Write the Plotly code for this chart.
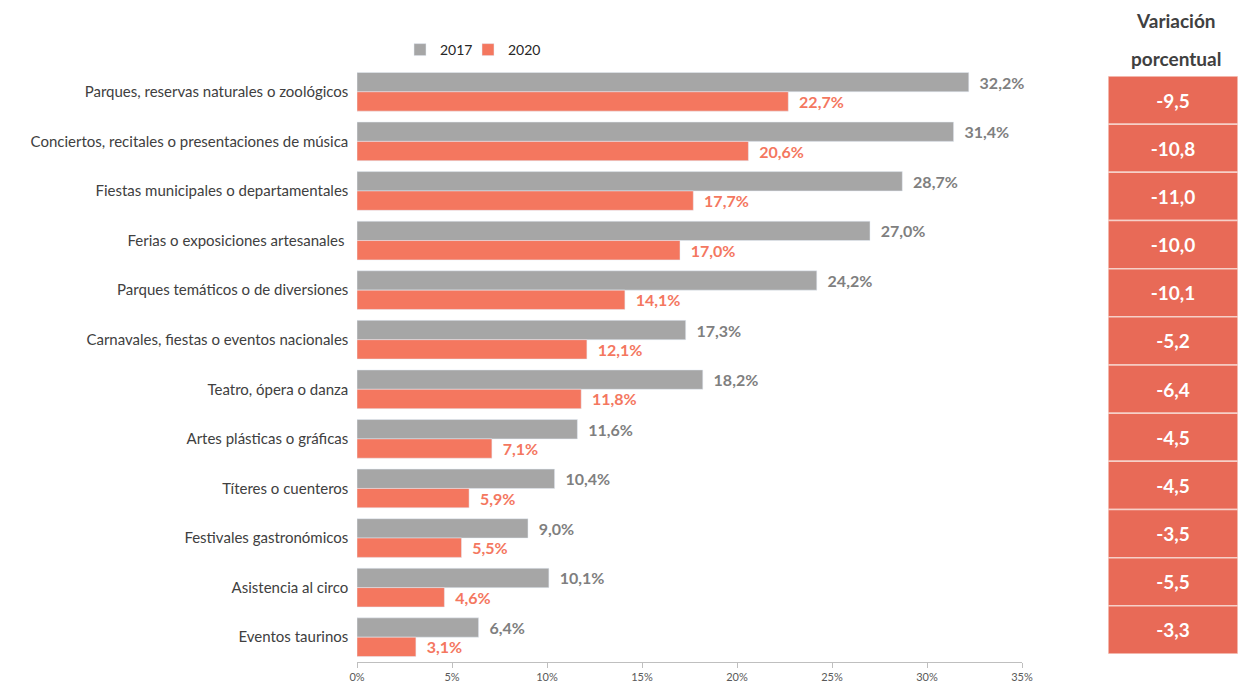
import plotly.graph_objects as go

categories = [
    "Parques, reservas naturales o zoológicos",
    "Conciertos, recitales o presentaciones de música",
    "Fiestas municipales o departamentales",
    "Ferias o exposiciones artesanales ",
    "Parques temáticos o de diversiones",
    "Carnavales, fiestas o eventos nacionales",
    "Teatro, ópera o danza",
    "Artes plásticas o gráficas",
    "Títeres o cuenteros",
    "Festivales gastronómicos",
    "Asistencia al circo",
    "Eventos taurinos",
]
values_2017 = [32.2, 31.4, 28.7, 27.0, 24.2, 17.3, 18.2, 11.6, 10.4, 9.0, 10.1, 6.4]
values_2020 = [22.7, 20.6, 17.7, 17.0, 14.1, 12.1, 11.8, 7.1, 5.9, 5.5, 4.6, 3.1]
variation = [-9.5, -10.8, -11.0, -10.0, -10.1, -5.2, -6.4, -4.5, -4.5, -3.5, -5.5, -3.3]
x_ticks = [0, 5, 10, 15, 20, 25, 30, 35]

FONT = "Lato"
W, H = 1238, 683
L, R, T, B = 357, 0, 67, 21
plot_w = W - L - R
plot_h = H - T - B

def fmt(v, pct=True):
    s = f"{v:.1f}".replace(".", ",")
    return s + ("%" if pct else "")

NB = "\u00a0\u00a0"

fig = go.Figure()
fig.add_trace(go.Bar(
    name="2017", y=categories, x=values_2017, orientation="h",
    marker=dict(color="#A6A6A6"), legend="legend",
    text=[NB + fmt(v) for v in values_2017], textposition="outside",
    textfont=dict(family=FONT, size=16, color="#7F7F7F", weight="bold"),
    cliponaxis=False,
))
fig.add_trace(go.Bar(
    name="2020", y=categories, x=values_2020, orientation="h",
    marker=dict(color="#F4775F"), legend="legend2",
    text=[NB + fmt(v) for v in values_2020], textposition="outside",
    textfont=dict(family=FONT, size=16, color="#F4775F", weight="bold"),
    cliponaxis=False,
))
fig.add_trace(go.Bar(
    y=categories, x=[1] * len(categories), orientation="h",
    xaxis="x2", yaxis="y2", width=1, showlegend=False,
    marker=dict(color="#E86A57", line=dict(color="#F6D0C8", width=1.5)),
    text=[fmt(v, False) for v in variation], textposition="inside",
    insidetextanchor="middle",
    textfont=dict(family=FONT, size=19, color="white", weight="bold"),
    hoverinfo="skip",
))

x1_end = (1022 - L) / plot_w
x2_start = (1108 - L) / plot_w
y2_top = (H - B - 76) / plot_h
y2_bot = (H - B - 654) / plot_h

leg_common = dict(orientation="h", xanchor="left",
                  y=(H - B - 34) / plot_h, yanchor="top",
                  font=dict(family=FONT, size=14, color="#262626"),
                  itemwidth=30, bgcolor="rgba(0,0,0,0)")

fig.update_layout(
    width=W, height=H,
    margin=dict(l=L, r=R, t=T, b=B, autoexpand=False),
    paper_bgcolor="white", plot_bgcolor="white",
    barmode="group", bargap=0.22, bargroupgap=0.0,
    font=dict(family=FONT, color="#404040"),
    showlegend=True,
    legend=dict(x=(400 - L) / plot_w, **leg_common),
    legend2=dict(x=(468 - L) / plot_w, **leg_common),
    xaxis=dict(domain=[0, x1_end], range=[0, 35], tickvals=x_ticks,
               ticktext=[f"{t}%" for t in x_ticks], showgrid=False, zeroline=False,
               showline=True, linecolor="#BFBFBF", linewidth=1,
               ticks="outside", ticklen=5, tickcolor="#BFBFBF",
               tickfont=dict(family=FONT, size=11, color="#595959")),
    yaxis=dict(autorange="reversed", showgrid=False, ticks="", showline=False,
               ticksuffix="  ", tickfont=dict(family=FONT, size=15, color="#404040")),
    xaxis2=dict(domain=[x2_start, 1], range=[0, 1], visible=False),
    yaxis2=dict(domain=[y2_bot, y2_top], autorange="reversed", visible=False,
                anchor="x2"),
)

for txt, ypx in [("Variación", 20), ("porcentual", 58)]:
    fig.add_annotation(text=txt, xref="paper", yref="paper",
                       x=(1176 - L) / plot_w, y=(H - B - ypx) / plot_h,
                       showarrow=False, xanchor="center", yanchor="middle",
                       font=dict(family=FONT, size=19, color="#404040", weight="bold"))

fig.write_html("out.html", config={"displayModeBar": False},
               post_script="document.body.style.margin='0';document.body.style.overflow='hidden';")
